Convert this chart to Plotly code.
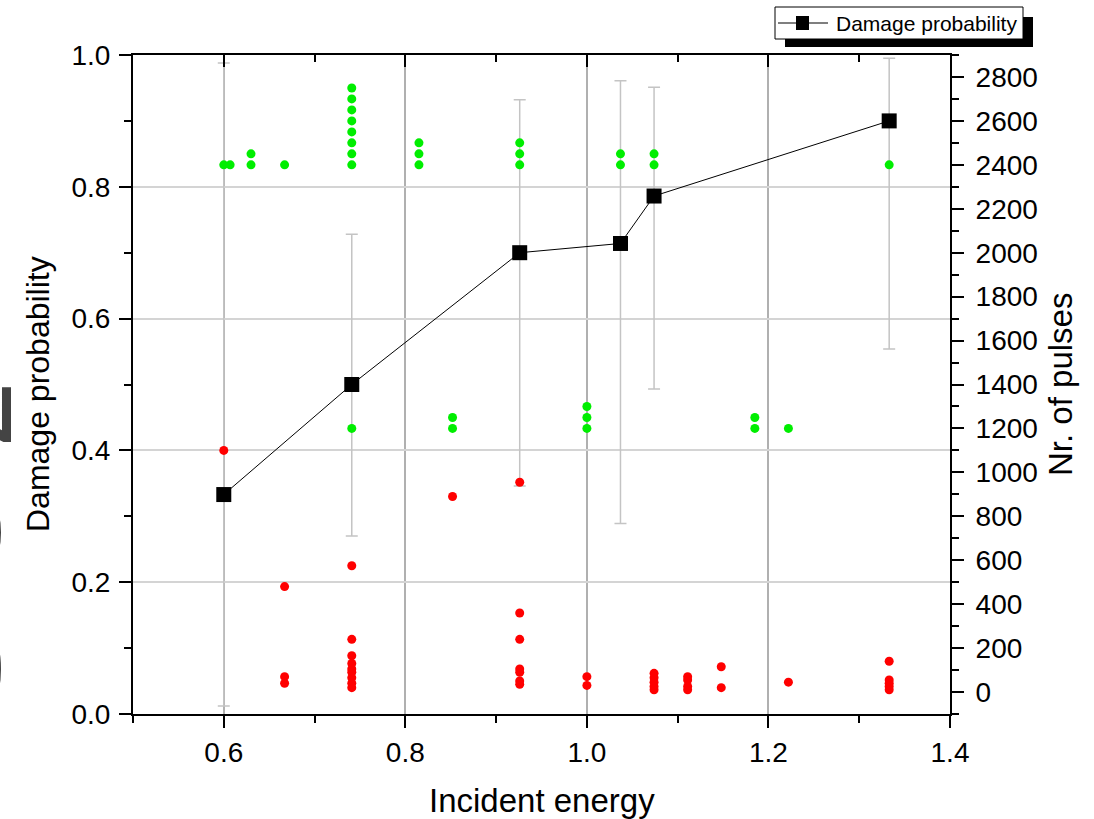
import plotly.graph_objects as go

# Damage probability vs incident energy (left axis)
damage_energy = [0.6, 0.741, 0.926, 1.037, 1.074, 1.333]
damage_prob = [0.333, 0.5, 0.7, 0.714, 0.786, 0.9]
damage_err_plus = [0.655, 0.228, 0.232, 0.247, 0.165, 0.095]
damage_err_minus = [0.321, 0.230, 0.354, 0.425, 0.293, 0.346]

# Number of pulses per sample, undamaged (green) and damaged (red) — right axis
green_energy = [0.6, 0.607, 0.63, 0.63, 0.667,
                0.741, 0.741, 0.741, 0.741, 0.741, 0.741, 0.741, 0.741, 0.741,
                0.815, 0.815, 0.815, 0.852, 0.852,
                0.926, 0.926, 0.926, 1.0, 1.0, 1.0,
                1.037, 1.037, 1.074, 1.074, 1.185, 1.185, 1.222, 1.333]
green_pulses = [2400, 2400, 2400, 2450, 2400,
                2400, 2450, 2500, 2550, 2600, 2650, 2700, 2750, 1200,
                2400, 2450, 2500, 1200, 1250,
                2400, 2450, 2500, 1200, 1250, 1300,
                2400, 2450, 2400, 2450, 1200, 1250, 1200, 2400]

red_energy = [0.6, 0.667, 0.667, 0.667,
              0.741, 0.741, 0.741, 0.741, 0.741, 0.741, 0.741, 0.741, 0.741,
              0.852, 0.926, 0.926, 0.926, 0.926, 0.926, 0.926, 0.926,
              1.0, 1.0, 1.074, 1.074, 1.074, 1.074, 1.074,
              1.111, 1.111, 1.111, 1.111, 1.148, 1.148, 1.222,
              1.333, 1.333, 1.333, 1.333, 1.333]
red_pulses = [1100, 480, 70, 40,
              575, 240, 165, 130, 105, 90, 65, 40, 20,
              890, 955, 360, 240, 105, 90, 50, 35,
              70, 30, 85, 65, 45, 25, 10,
              70, 55, 25, 10, 115, 20, 45,
              140, 55, 40, 25, 10]

x_ticks = [0.6, 0.8, 1.0, 1.2, 1.4]

FONT = "Liberation Sans, Arial, sans-serif"
W, H = 1094, 819
ML, MR, MT, MB = 133, 144, 55, 105
PW, PH = W - ML - MR, H - MT - MB


def px_x(px):
    return (px - ML) / PW


def px_y(py):
    return (H - MB - py) / PH


fig = go.Figure()

fig.add_trace(go.Scatter(
    x=damage_energy, y=damage_prob, mode="lines+markers",
    name="Damage probability",
    line=dict(color="black", width=1),
    marker=dict(symbol="square", size=15, color="black"),
    error_y=dict(type="data", symmetric=False, array=damage_err_plus,
                 arrayminus=damage_err_minus, color="#c4c4c4",
                 thickness=1.5, width=6),
    xaxis="x", yaxis="y", showlegend=False,
))

fig.add_trace(go.Scatter(
    x=green_energy, y=green_pulses, mode="markers",
    marker=dict(size=9, color="#00ee00"),
    xaxis="x", yaxis="y2", showlegend=False,
))

fig.add_trace(go.Scatter(
    x=red_energy, y=red_pulses, mode="markers",
    marker=dict(size=9, color="#ff0000"),
    xaxis="x", yaxis="y2", showlegend=False,
))

# empty trace so the mirrored top axis gets drawn
fig.add_trace(go.Scatter(x=[], y=[], xaxis="x2", yaxis="y", showlegend=False))

tickfont = dict(family=FONT, size=28, color="black")
major = dict(ticklen=12, tickwidth=2, tickcolor="black")

fig.update_layout(
    width=W, height=H, autosize=False,
    margin=dict(l=ML, r=MR, t=MT, b=MB, pad=0),
    paper_bgcolor="white", plot_bgcolor="white",
    font=dict(family=FONT, color="black"),
    showlegend=False,
    xaxis=dict(
        range=[0.5, 1.4], tickvals=x_ticks, tickformat=".1f",
        ticks="outside", **major, tickfont=tickfont, ticklabelstandoff=0,
        showline=True, linecolor="black", linewidth=2,
        showgrid=True, gridcolor="#b0b0b0", gridwidth=1.5, zeroline=False,
        minor=dict(dtick=0.1, tick0=0.5, ticks="outside", ticklen=7,
                   tickwidth=2, tickcolor="black", showgrid=False),
    ),
    xaxis2=dict(
        range=[0.5, 1.4], tickvals=x_ticks, overlaying="x", side="top",
        anchor="y", ticks="inside", **major, showticklabels=False,
        showline=True, linecolor="black", linewidth=2,
        showgrid=False, zeroline=False,
        minor=dict(dtick=0.1, tick0=0.5, ticks="inside", ticklen=7,
                   tickwidth=2, tickcolor="black", showgrid=False),
    ),
    yaxis=dict(
        range=[0, 1], tick0=0, dtick=0.2, tickformat=".1f",
        ticks="outside", **major, tickfont=tickfont, ticklabelstandoff=3,
        showline=True, linecolor="black", linewidth=2,
        showgrid=True, gridcolor="#d4d4d4", gridwidth=1.5, zeroline=False,
        minor=dict(dtick=0.1, ticks="outside", ticklen=7,
                   tickwidth=2, tickcolor="black", showgrid=False),
    ),
    yaxis2=dict(
        range=[-100, 2900], tick0=0, dtick=200, overlaying="y", side="right",
        anchor="x", ticks="outside", **major, tickfont=tickfont,
        ticklabelstandoff=6,
        showline=True, linecolor="black", linewidth=2,
        showgrid=False, zeroline=False,
        minor=dict(dtick=100, tick0=0, ticks="outside", ticklen=7,
                   tickwidth=2, tickcolor="black", showgrid=False),
    ),
)

title_font = dict(family=FONT, size=33, color="black")
annotations = [
    dict(text="Incident energy", x=0.5, y=px_y(800), xref="paper", yref="paper",
         xanchor="center", yanchor="middle", showarrow=False, font=title_font),
    dict(text="Damage probability", x=px_x(38), y=px_y(394), xref="paper",
         yref="paper", xanchor="center", yanchor="middle", textangle=-90,
         showarrow=False, font=dict(family=FONT, size=32, color="black")),
    dict(text="Nr. of pulses", x=px_x(1060), y=px_y(385), xref="paper",
         yref="paper", xanchor="center", yanchor="middle", textangle=-90,
         showarrow=False, font=dict(family=FONT, size=33, color="black")),
    # large label running off the left edge
    dict(text="SO", x=px_x(41), y=px_y(596), xref="paper", yref="paper",
         xanchor="right", yanchor="middle", textangle=-90, showarrow=False,
         font=dict(family=FONT, size=190, color="#444444")),
    dict(text="2", x=px_x(38), y=px_y(415), xref="paper", yref="paper",
         xanchor="right", yanchor="middle", textangle=-90, showarrow=False,
         font=dict(family=FONT, size=120, color="#444444")),
    # legend text
    dict(text="Damage probability", x=px_x(834), y=px_y(23), xref="paper",
         yref="paper", xanchor="left", yanchor="middle", showarrow=False,
         font=dict(family=FONT, size=21, color="black")),
]
fig.update_layout(annotations=annotations)

# framed legend box with a drop shadow
shapes = [
    dict(type="rect", xref="paper", yref="paper",
         x0=px_x(785), x1=px_x(1033), y0=px_y(47), y1=px_y(17),
         fillcolor="black", line=dict(width=0), layer="above"),
    dict(type="rect", xref="paper", yref="paper",
         x0=px_x(775), x1=px_x(1023), y0=px_y(39), y1=px_y(7),
         fillcolor="white", line=dict(color="black", width=1), layer="above"),
    dict(type="line", xref="paper", yref="paper",
         x0=px_x(778), x1=px_x(828), y0=px_y(23), y1=px_y(23),
         line=dict(color="black", width=1.2), layer="above"),
    dict(type="rect", xref="paper", yref="paper",
         x0=px_x(796), x1=px_x(809), y0=px_y(30), y1=px_y(16),
         fillcolor="black", line=dict(width=0), layer="above"),
]
fig.update_layout(shapes=shapes)

fig.write_html("out.html")
